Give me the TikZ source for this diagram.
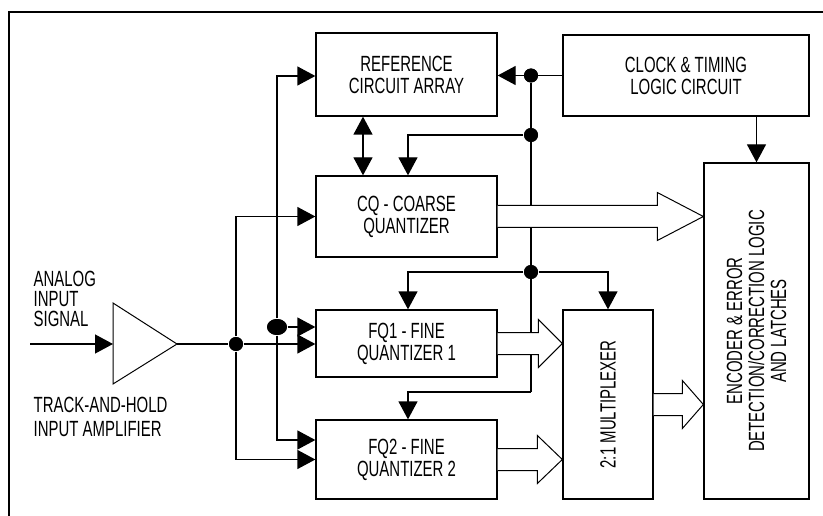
\documentclass[tikz,border=0pt]{standalone}
\usepackage{fontspec}
\setmainfont[FakeStretch=0.68]{Liberation Sans}
\usetikzlibrary{arrows.meta,calc,shapes.geometric}
\newcommand\busarrow[3]{%
  \filldraw[bus] ($(#1)+(0,-11)$) -- ($(#2)+(-#3,-11)$) -- ($(#2)+(-#3,-24)$) -- (#2)
    -- ($(#2)+(-#3,24)$) -- ($(#2)+(-#3,11)$) -- ($(#1)+(0,11)$);}
\begin{document}
\begin{tikzpicture}[x=1pt,y=-1pt,line width=1.3pt,
  txt/.style={font=\fontsize{22}{22}\selectfont, align=center, inner sep=0pt},
  box/.style={draw, txt},
  arr/.style={-{Triangle[length=18pt,width=19pt]}},
  darr/.style={{Triangle[length=18pt,width=19pt]}-{Triangle[length=18pt,width=19pt]}},
  dot/.style={circle, fill, inner sep=0pt, minimum size=14pt},
  bigdot/.style={ellipse, fill, inner sep=0pt, minimum width=20pt, minimum height=16pt},
  bus/.style={fill=white, line width=1pt}]
\useasboundingbox (0,0) rectangle (823,516);
\draw[line width=2pt] (9,516) -- (9,12) -- (823,12);

% blocks
\node[box, minimum width=181pt, minimum height=83pt] (ref) at (406.5,74.5) {REFERENCE\\CIRCUIT ARRAY};
\node[box, minimum width=246pt, minimum height=81pt] (clk) at (686,75.5) {CLOCK \& TIMING\\LOGIC CIRCUIT};
\node[box, minimum width=181pt, minimum height=81pt] (cq) at (406.5,216.5) {CQ - COARSE\\QUANTIZER};
\node[box, minimum width=181pt, minimum height=67pt] (fq1) at (406.5,343.5) {FQ1 - FINE\\QUANTIZER 1};
\node[box, minimum width=181pt, minimum height=79pt] (fq2) at (406.5,459.5) {FQ2 - FINE\\QUANTIZER 2};
\node[box, minimum width=90pt, minimum height=189pt] (mux) at (608,404.5) {};
\node[txt, rotate=90] (muxt) at (mux.center) {2:1 MULTIPLEXER};
\node[box, minimum width=105pt, minimum height=336pt] (enc) at (756.5,331) {};
\node[txt, rotate=90] (enct) at (enc.center) {ENCODER \& ERROR\\DETECTION/CORRECTION LOGIC\\AND LATCHES};

% amplifier
\coordinate (ampin) at (113,344);
\coordinate (ampout) at (177,344);
\draw[line width=1pt] (113,303) -- (ampout) -- (113,384) -- cycle;
\coordinate (sig) at (30,344);
\node[anchor=north west, inner sep=0pt, align=left, font=\fontsize{22}{20}\selectfont] (lab1) at (33,270) {ANALOG\\INPUT\\SIGNAL};
\node[anchor=north west, inner sep=0pt, align=left, font=\fontsize{22}{24}\selectfont] (lab2) at (33,396) {TRACK-AND-HOLD\\INPUT AMPLIFIER};

% helper coordinates
\coordinate (y76) at (0,76);
\coordinate (y440) at (0,440);
\coordinate (cx) at (408,0);
\coordinate (rx) at (363,0);

% input nets
\draw[arr] (sig) -- (ampin);
\node[dot] (j1) at (236,344) {};
\draw (ampout) -- (j1);
\draw[arr] (j1) -- (fq1.west |- j1);
\draw[arr] (j1) |- (cq.west);
\draw[arr] (j1) |- (fq2.west);
\node[bigdot] (j2) at (277,327) {};
\draw[arr] (j2) |- (ref.west |- y76);
\draw[arr] (j2) -- (fq1.west |- j2);
\draw[arr] (j2) |- (fq2.west |- y440);

% clock nets
\node[dot] (k1) at (531,75.5) {};
\node[dot] (k2) at (531,135) {};
\node[dot] (k3) at (531,272) {};
\coordinate (k4) at (531,392);
\draw (k1) -- (k4);
\draw[arr] (clk.west) -- (ref.east |- clk.west);
\draw[arr] (k2) -| (cx |- cq.north);
\draw[arr] (k3) -| (cx |- fq1.north);
\draw[arr] (k3) -| (mux.north);
\draw[arr] (k4) -| (cx |- fq2.north);
\draw[arr] (clk.south -| enc.north) -- (enc.north);
\draw[darr] (rx |- ref.south) -- (rx |- cq.north);

% buses
\coordinate (cqT) at (enc.west |- cq.east);
\coordinate (f1T) at (mux.west |- fq1.east);
\coordinate (f2T) at (mux.west |- fq2.east);
\coordinate (mxT) at (enc.west |- mux.east);
\busarrow{cq.east}{cqT}{46}
\busarrow{fq1.east}{f1T}{24}
\busarrow{fq2.east}{f2T}{25}
\busarrow{mux.east}{mxT}{21}

% redraw dots on top
\node[dot] at (k1) {};
\node[dot] at (k2) {};
\node[dot] at (k3) {};
\node[dot] at (j1) {};
\node[bigdot] at (j2) {};
\end{tikzpicture}
\end{document}
